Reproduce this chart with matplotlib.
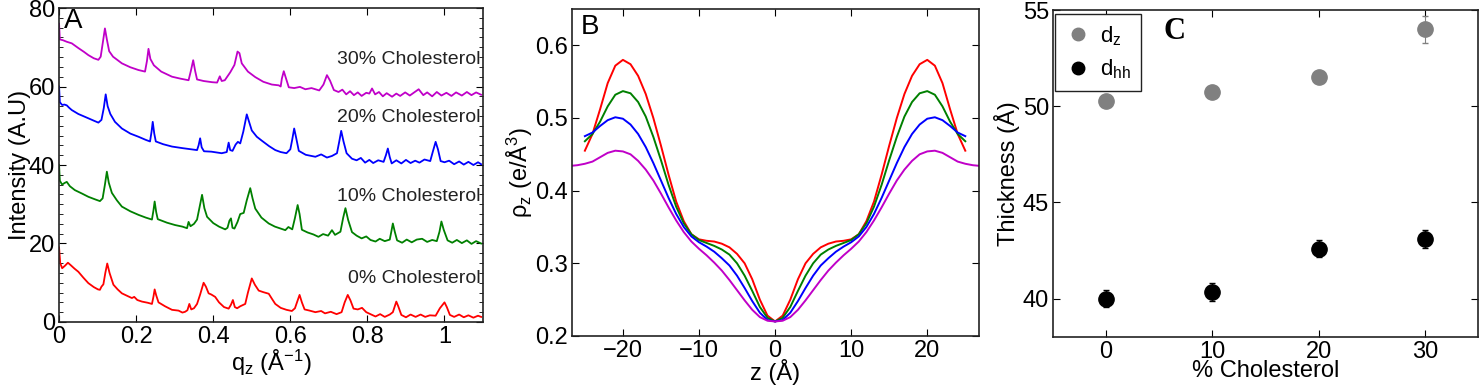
import numpy as np
import matplotlib
matplotlib.use("Agg")
import matplotlib.pyplot as plt
from matplotlib.ticker import MultipleLocator
from matplotlib.lines import Line2D

plt.rcParams['font.family'] = ['Liberation Sans', 'DejaVu Sans']
plt.rcParams['mathtext.fontset'] = 'custom'
plt.rcParams['mathtext.rm'] = 'Liberation Sans'
plt.rcParams['mathtext.it'] = 'Liberation Sans'
plt.rcParams['mathtext.default'] = 'regular'

# ---- panel A: diffraction profiles, (q_z, intensity) pairs ----
chol30 = [
    (0.000, 76.0), (0.002, 72.0), (0.010, 71.8), (0.020, 71.4), (0.033, 71.0), (0.050, 69.8),
    (0.065, 68.8), (0.076, 68.0), (0.090, 67.2), (0.102, 66.8), (0.108, 67.6), (0.114, 71.5),
    (0.119, 74.8), (0.124, 72.0), (0.130, 69.0), (0.140, 67.6), (0.163, 65.9), (0.185, 64.9),
    (0.206, 64.2), (0.223, 63.8), (0.228, 66.5), (0.232, 69.6), (0.237, 67.0), (0.241, 66.3),
    (0.246, 65.4), (0.265, 63.8), (0.293, 62.5), (0.315, 62.0), (0.336, 61.6), (0.342, 64.0),
    (0.348, 66.7), (0.353, 64.0), (0.358, 61.8), (0.375, 61.4), (0.397, 61.1), (0.410, 61.0),
    (0.417, 62.6), (0.422, 61.4), (0.430, 61.6), (0.444, 63.6), (0.455, 65.5), (0.463, 68.9),
    (0.468, 68.5), (0.474, 65.9), (0.490, 63.8), (0.509, 62.4), (0.530, 61.2), (0.552, 60.5),
    (0.570, 60.3), (0.575, 60.0), (0.578, 62.0), (0.583, 63.9), (0.589, 62.0), (0.596, 59.8),
    (0.610, 59.6), (0.625, 59.9), (0.639, 59.3), (0.655, 59.6), (0.675, 59.0), (0.686, 60.5),
    (0.695, 62.9), (0.703, 61.5), (0.713, 59.1), (0.725, 58.6), (0.735, 59.2), (0.745, 58.0),
    (0.755, 58.8), (0.765, 57.8), (0.775, 58.5), (0.785, 57.6), (0.797, 58.4), (0.805, 58.2),
    (0.812, 59.5), (0.820, 58.0), (0.830, 58.6), (0.840, 57.5), (0.850, 58.3), (0.864, 57.4),
    (0.875, 58.2), (0.885, 57.6), (0.898, 58.5), (0.910, 57.7), (0.920, 58.4), (0.933, 59.3),
    (0.945, 57.8), (0.955, 58.5), (0.968, 57.5), (0.980, 58.6), (0.992, 57.7), (1.005, 58.4),
    (1.018, 57.6), (1.030, 58.5), (1.045, 57.7), (1.058, 58.6), (1.070, 57.8), (1.082, 58.5),
    (1.095, 57.9),
]
chol20 = [
    (0.000, 60.0), (0.002, 56.0), (0.008, 55.3), (0.014, 55.4), (0.020, 55.2), (0.026, 54.6),
    (0.033, 54.0), (0.050, 53.0), (0.076, 51.9), (0.090, 51.3), (0.102, 50.8), (0.110, 51.5),
    (0.116, 54.5), (0.121, 58.0), (0.126, 55.0), (0.133, 53.0), (0.145, 51.0), (0.163, 49.3),
    (0.185, 48.0), (0.206, 47.2), (0.225, 46.4), (0.236, 46.0), (0.240, 48.5), (0.243, 51.0),
    (0.247, 48.0), (0.251, 46.0), (0.270, 45.3), (0.293, 44.7), (0.320, 44.3), (0.358, 43.8),
    (0.362, 45.0), (0.366, 46.8), (0.370, 44.5), (0.376, 43.5), (0.395, 43.4), (0.422, 43.0),
    (0.435, 43.3), (0.440, 45.7), (0.444, 43.8), (0.450, 43.6), (0.458, 45.2), (0.464, 45.9),
    (0.470, 45.5), (0.478, 48.5), (0.487, 52.9), (0.493, 51.0), (0.500, 48.8), (0.513, 47.2),
    (0.526, 46.2), (0.545, 44.8), (0.561, 43.8), (0.575, 43.3), (0.590, 43.0), (0.600, 44.0),
    (0.605, 46.5), (0.610, 49.3), (0.615, 47.0), (0.622, 43.6), (0.640, 42.6), (0.665, 42.1),
    (0.680, 42.7), (0.695, 41.9), (0.708, 42.3), (0.721, 43.0), (0.727, 46.0), (0.732, 48.7),
    (0.738, 46.0), (0.746, 43.0), (0.760, 41.6), (0.772, 41.2), (0.783, 41.8), (0.794, 40.6),
    (0.805, 41.3), (0.815, 40.5), (0.828, 41.2), (0.842, 40.8), (0.848, 42.5), (0.853, 44.2),
    (0.858, 42.0), (0.863, 40.4), (0.875, 41.2), (0.888, 40.4), (0.900, 41.3), (0.912, 40.5),
    (0.924, 41.1), (0.935, 40.6), (0.948, 41.4), (0.963, 41.0), (0.970, 43.5), (0.977, 45.9),
    (0.983, 44.0), (0.990, 41.0), (1.000, 40.7), (1.012, 41.1), (1.025, 40.2), (1.038, 40.9),
    (1.050, 40.1), (1.062, 40.8), (1.075, 40.0), (1.087, 40.7), (1.095, 40.2),
]
chol10 = [
    (0.000, 40.0), (0.002, 36.0), (0.008, 35.0), (0.014, 35.4), (0.020, 35.7), (0.028, 34.6),
    (0.041, 33.6), (0.060, 32.7), (0.076, 31.9), (0.092, 31.3), (0.106, 30.8), (0.113, 31.5),
    (0.119, 35.0), (0.124, 38.3), (0.129, 35.5), (0.137, 32.9), (0.150, 31.0), (0.163, 29.4),
    (0.185, 28.2), (0.206, 27.3), (0.225, 26.6), (0.241, 26.1), (0.245, 28.5), (0.248, 30.7),
    (0.252, 28.0), (0.256, 26.2), (0.280, 25.3), (0.301, 24.7), (0.320, 24.3), (0.332, 23.9),
    (0.336, 25.5), (0.341, 24.4), (0.350, 25.0), (0.358, 26.1), (0.364, 29.0), (0.371, 32.4),
    (0.377, 29.0), (0.384, 26.8), (0.400, 25.2), (0.415, 24.3), (0.431, 23.6), (0.437, 24.0),
    (0.442, 25.8), (0.446, 26.4), (0.450, 24.0), (0.455, 23.8), (0.463, 25.5), (0.470, 27.5),
    (0.479, 27.8), (0.487, 31.0), (0.496, 34.1), (0.502, 31.5), (0.509, 28.9), (0.525, 26.6),
    (0.544, 25.1), (0.560, 24.3), (0.575, 23.8), (0.587, 23.4), (0.595, 24.2), (0.605, 23.6),
    (0.612, 26.5), (0.619, 29.8), (0.624, 27.5), (0.630, 23.5), (0.645, 22.8), (0.660, 22.3),
    (0.673, 21.7), (0.685, 22.4), (0.698, 22.0), (0.708, 23.4), (0.716, 22.2), (0.730, 23.0),
    (0.737, 26.5), (0.743, 29.0), (0.750, 26.0), (0.760, 22.9), (0.772, 22.0), (0.785, 21.3),
    (0.797, 21.8), (0.808, 20.9), (0.821, 20.5), (0.832, 21.2), (0.845, 20.6), (0.858, 21.0),
    (0.862, 23.0), (0.866, 25.1), (0.871, 23.0), (0.877, 20.8), (0.890, 20.2), (0.902, 21.0),
    (0.915, 20.3), (0.928, 21.0), (0.942, 21.2), (0.955, 20.4), (0.968, 20.9), (0.980, 20.6),
    (0.987, 23.0), (0.992, 25.6), (0.998, 23.5), (1.008, 20.8), (1.020, 20.2), (1.032, 20.9),
    (1.045, 20.1), (1.058, 20.8), (1.070, 19.9), (1.082, 20.6), (1.095, 20.0),
]
chol0 = [
    (0.000, 19.0), (0.003, 15.0), (0.008, 13.7), (0.015, 14.3), (0.023, 15.1), (0.030, 14.5),
    (0.040, 13.6), (0.050, 12.8), (0.063, 11.3), (0.076, 9.9), (0.090, 8.9), (0.101, 8.3),
    (0.106, 8.2), (0.110, 9.0), (0.115, 9.6), (0.120, 12.5), (0.125, 14.9), (0.131, 12.5),
    (0.141, 9.5), (0.152, 8.3), (0.163, 7.3), (0.178, 6.6), (0.189, 6.1), (0.195, 6.4),
    (0.203, 5.6), (0.215, 5.2), (0.230, 4.9), (0.241, 4.6), (0.245, 6.5), (0.248, 8.3),
    (0.252, 6.8), (0.258, 5.0), (0.275, 4.0), (0.293, 3.1), (0.310, 2.9), (0.320, 2.4),
    (0.327, 2.6), (0.333, 3.0), (0.338, 4.6), (0.343, 3.2), (0.350, 3.5), (0.358, 4.6),
    (0.366, 7.0), (0.375, 10.0), (0.381, 9.0), (0.388, 7.3), (0.395, 7.0), (0.405, 6.4),
    (0.415, 5.0), (0.428, 3.8), (0.440, 3.4), (0.446, 4.4), (0.451, 5.6), (0.456, 3.8),
    (0.462, 3.5), (0.470, 4.0), (0.483, 4.6), (0.490, 7.5), (0.500, 11.1), (0.508, 9.5),
    (0.518, 8.0), (0.530, 7.6), (0.544, 7.2), (0.553, 5.8), (0.561, 4.6), (0.575, 3.6),
    (0.590, 3.1), (0.604, 2.8), (0.612, 3.5), (0.619, 5.5), (0.624, 6.9), (0.630, 5.0),
    (0.637, 3.2), (0.650, 2.9), (0.665, 2.5), (0.680, 2.8), (0.690, 2.2), (0.705, 2.6),
    (0.720, 2.0), (0.733, 2.5), (0.741, 5.0), (0.749, 6.9), (0.756, 5.5), (0.764, 3.4),
    (0.775, 3.2), (0.786, 3.6), (0.797, 2.5), (0.810, 1.9), (0.821, 1.4), (0.833, 2.0),
    (0.845, 1.3), (0.858, 1.9), (0.866, 2.5), (0.871, 4.0), (0.875, 5.2), (0.880, 4.0),
    (0.888, 1.8), (0.900, 1.2), (0.912, 1.9), (0.925, 1.3), (0.938, 1.9), (0.950, 1.3),
    (0.962, 1.7), (0.977, 1.6), (0.988, 3.5), (1.000, 5.0), (1.006, 3.8), (1.014, 1.8),
    (1.025, 1.3), (1.038, 1.9), (1.050, 1.2), (1.062, 1.7), (1.075, 1.1), (1.087, 1.6),
    (1.095, 1.3),
]
labels_a = ["0% Cholesterol", "10% Cholesterol", "20% Cholesterol", "30% Cholesterol"]
label_y_a = [11.2, 31.9, 52.0, 66.8]

# ---- panel B: electron density profiles ----
z_b = [-25, -24, -23, -22, -21, -20, -19, -18, -17, -16, -15, -14, -13, -12, -11, -10, -9, -8,
       -7, -6, -5, -4, -3, -2, -1, 0, 1, 2, 3, 4, 5, 6, 7, 8, 9, 10, 11, 12, 13, 14, 15, 16,
       17, 18, 19, 20, 21, 22, 23, 24, 25]
rho_0 = [0.455, 0.478, 0.512, 0.548, 0.572, 0.580, 0.574, 0.558, 0.533, 0.500, 0.462, 0.422,
         0.385, 0.358, 0.340, 0.333, 0.331, 0.330, 0.327, 0.322, 0.313, 0.300, 0.278, 0.250,
         0.228, 0.220, 0.228, 0.250, 0.278, 0.300, 0.313, 0.322, 0.327, 0.330, 0.331, 0.333,
         0.340, 0.358, 0.385, 0.422, 0.462, 0.500, 0.533, 0.558, 0.574, 0.580, 0.572, 0.548,
         0.512, 0.478, 0.455]
rho_10 = [0.468, 0.478, 0.495, 0.516, 0.532, 0.537, 0.534, 0.522, 0.502, 0.474, 0.442, 0.408,
          0.378, 0.355, 0.340, 0.332, 0.328, 0.324, 0.319, 0.312, 0.300, 0.283, 0.262, 0.240,
          0.225, 0.220, 0.225, 0.240, 0.262, 0.283, 0.300, 0.312, 0.319, 0.324, 0.328, 0.332,
          0.340, 0.355, 0.378, 0.408, 0.442, 0.474, 0.502, 0.522, 0.534, 0.537, 0.532, 0.516,
          0.495, 0.478, 0.468]
rho_20 = [0.475, 0.480, 0.489, 0.497, 0.501, 0.499, 0.491, 0.478, 0.460, 0.438, 0.414, 0.390,
          0.368, 0.350, 0.337, 0.329, 0.323, 0.316, 0.307, 0.297, 0.283, 0.266, 0.248, 0.232,
          0.222, 0.220, 0.222, 0.232, 0.248, 0.266, 0.283, 0.297, 0.307, 0.316, 0.323, 0.329,
          0.337, 0.350, 0.368, 0.390, 0.414, 0.438, 0.460, 0.478, 0.491, 0.499, 0.501, 0.497,
          0.489, 0.480, 0.475]
z_b30 = [-27, -26] + z_b + [26, 27]
rho_30 = [0.434, 0.435, 0.437, 0.440, 0.446, 0.452, 0.455, 0.454, 0.450, 0.441, 0.429, 0.414,
          0.396, 0.377, 0.359, 0.343, 0.330, 0.320, 0.311, 0.301, 0.290, 0.277, 0.263, 0.249,
          0.236, 0.226, 0.221, 0.220, 0.221, 0.226, 0.236, 0.249, 0.263, 0.277, 0.290, 0.301,
          0.311, 0.320, 0.330, 0.343, 0.359, 0.377, 0.396, 0.414, 0.429, 0.441, 0.450, 0.454,
          0.455, 0.452, 0.446, 0.440, 0.437, 0.435, 0.434]

# ---- panel C: bilayer thickness ----
chol_pct = [0, 10, 20, 30]
d_z = [50.3, 50.75, 51.5, 54.0]
d_z_err = [0.15, 0.15, 0.15, 0.7]
d_hh = [40.0, 40.35, 42.6, 43.1]
d_hh_err = [0.45, 0.45, 0.45, 0.45]

colors = ['#ff0000', '#008000', '#0000ff', '#c000c8']
fs_tick = 17
fs_lab = 17


def style_axes(ax):
    ax.tick_params(direction='in', top=True, right=True, labelsize=fs_tick, length=5,
                   width=0.8, pad=3)
    ax.tick_params(which='minor', direction='in', right=True, length=3, width=0.6)
    for s in ax.spines.values():
        s.set_linewidth(1.2)
        s.set_color('#222222')


fig = plt.figure(figsize=(14.84, 3.91), dpi=100)

# panel A
axA = fig.add_axes([0.0398, 0.1765, 0.2857, 0.803])
for curve, c in zip([chol0, chol10, chol20, chol30], colors):
    q, inten = zip(*curve)
    axA.plot(q, inten, color=c, lw=1.3)
for txt, yy in zip(labels_a, label_y_a):
    axA.text(1.093, yy, txt, ha='right', va='center', fontsize=14, color='#222222')
axA.set_xlim(0, 1.1)
axA.set_ylim(0, 80)
axA.set_xticks([0, 0.2, 0.4, 0.6, 0.8, 1.0])
axA.set_xticklabels(['0', '0.2', '0.4', '0.6', '0.8', '1'])
axA.set_yticks([0, 20, 40, 60, 80])
axA.yaxis.set_minor_locator(MultipleLocator(2.5))
axA.set_xlabel('q$_z$ (Å$^{-1}$)', fontsize=fs_lab, labelpad=0)
axA.set_ylabel('Intensity (A.U)', fontsize=fs_lab, labelpad=-2)
axA.text(0.012, 1.0, 'A', transform=axA.transAxes, ha='left', va='top', fontsize=20)
style_axes(axA)

# panel B
axB = fig.add_axes([0.3854, 0.1407, 0.2743, 0.8363])
for zz, rho, c in zip([z_b, z_b, z_b, z_b30], [rho_0, rho_10, rho_20, rho_30], colors):
    axB.plot(zz, rho, color=c, lw=1.4)
axB.set_xlim(-26.7, 26.8)
axB.set_ylim(0.2, 0.65)
axB.set_xticks([-20, -10, 0, 10, 20])
axB.set_xticklabels(['\u221220', '\u221210', '0', '10', '20'])
axB.set_yticks([0.2, 0.3, 0.4, 0.5, 0.6])
axB.set_xlabel('z (Å)', fontsize=fs_lab, labelpad=-2)
axB.set_ylabel('$\\rho_z$ (e/Å$^3$)', fontsize=fs_lab, labelpad=0)
axB.text(0.022, 0.985, 'B', transform=axB.transAxes, ha='left', va='top', fontsize=20)
style_axes(axB)

# panel C
axC = fig.add_axes([0.7096, 0.138, 0.2864, 0.836])
axC.errorbar(chol_pct, d_z, yerr=d_z_err, fmt='o', color='#808080', ms=11,
             elinewidth=0.8, capsize=2.5)
axC.errorbar(chol_pct, d_hh, yerr=d_hh_err, fmt='o', color='black', ms=11,
             elinewidth=0.8, capsize=2.5)
axC.set_xlim(-5, 35)
axC.set_ylim(38, 55)
axC.set_xticks([0, 10, 20, 30])
axC.set_yticks([40, 45, 50, 55])
axC.set_xlabel('% Cholesterol', fontsize=fs_lab, labelpad=-2)
axC.set_ylabel('Thickness (Å)', fontsize=fs_lab, labelpad=2)
handles = [Line2D([], [], ls='none', marker='o', color='#808080', ms=9),
           Line2D([], [], ls='none', marker='o', color='black', ms=9)]
leg = axC.legend(handles, ['d$_z$', 'd$_{hh}$'], loc='upper left',
                 bbox_to_anchor=(0.004, 0.988), fontsize=16, fancybox=False,
                 edgecolor='#222222', framealpha=1, handlelength=1.2,
                 handletextpad=0.4, borderpad=0.45, labelspacing=0.45,
                 borderaxespad=0)
leg.get_frame().set_linewidth(1.0)
axC.text(0.285, 0.935, 'C', transform=axC.transAxes, ha='center', va='center',
         fontsize=22, fontweight='bold', family='Liberation Serif')
style_axes(axC)

fig.savefig('out.png', dpi=100)
